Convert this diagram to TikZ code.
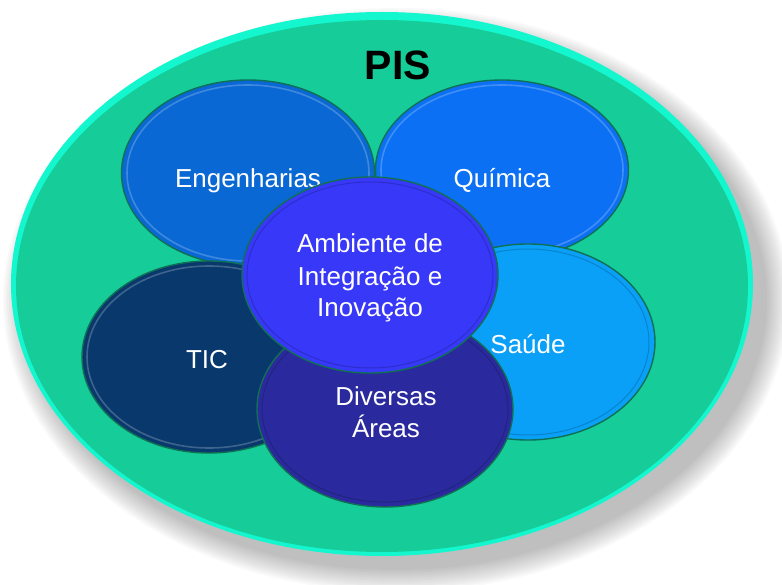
\documentclass[tikz,border=0pt]{standalone}
\usepackage{fontspec}
\setmainfont{Liberation Sans}
\usetikzlibrary{shapes.geometric}

\definecolor{tealfill}{RGB}{22,204,152}
\definecolor{tealrim}{RGB}{20,246,206}
\definecolor{edgegreen}{RGB}{16,112,84}
\definecolor{engblue}{RGB}{10,104,212}
\definecolor{quiblue}{RGB}{12,112,244}
\definecolor{ticblue}{RGB}{8,56,108}
\definecolor{saublue}{RGB}{10,160,248}
\definecolor{divblue}{RGB}{42,42,158}
\definecolor{ambblue}{RGB}{56,56,248}

\tikzset{
  bubble/.style={ellipse, draw=edgegreen, line width=1.4pt, inner sep=0pt},
  ring/.style={draw=black, opacity=0.18, line width=1pt},
  shine/.style={draw=white, opacity=0.22, line width=1.6pt},
  lbl/.style={text=white, font=\fontsize{26}{32}\selectfont, align=center, inner sep=0pt},
}

\begin{document}
\begin{tikzpicture}[x=1pt, y=-1pt]
  \useasboundingbox (0,0) rectangle (782,585);

  % soft drop shadow under the outer field
  \foreach \k in {0,...,11}
    \fill[black, opacity=0.025] (396,300) ellipse [x radius={(393-2*\k)*1pt}, y radius={(292-2*\k)*1pt}];

  % outer field with a bright rim
  \fill[tealrim] (382,284) ellipse [x radius=371pt, y radius=272pt];
  \fill[tealfill] (382,286) ellipse [x radius=366pt, y radius=266pt];

  \node[font=\fontsize{41}{48}\selectfont\bfseries, anchor=base, inner sep=0pt] (pis) at (398,80) {PIS};

  % the five areas and the centre (multi-line labels sit on their last baseline)
  \node[bubble, fill=engblue, minimum width=253pt, minimum height=186pt] (eng) at (248,173) {};
  \draw[shine] (eng.center) ellipse [x radius=121pt, y radius=88pt];
  \node[lbl, anchor=base] (engt) at (248,188) {Engenharias};

  \node[bubble, fill=quiblue, minimum width=253pt, minimum height=180pt] (qui) at (502,170) {};
  \draw[shine] (qui.center) ellipse [x radius=121pt, y radius=85pt];
  \node[lbl, anchor=base] (quit) at (502,188) {Química};

  \node[bubble, fill=ticblue, minimum width=254pt, minimum height=192pt] (tic) at (209,357) {};
  \draw[shine] (tic.center) ellipse [x radius=122pt, y radius=91pt];
  \node[lbl, anchor=base] (tict) at (207,368) {TIC};

  \node[bubble, fill=saublue, minimum width=254pt, minimum height=196pt] (sau) at (528,342) {};
  \draw[ring] (sau.center) ellipse [x radius=121pt, y radius=93pt];
  \node[lbl, anchor=base] (saut) at (528,353) {Saúde};

  \node[bubble, fill=divblue, minimum width=256pt, minimum height=196pt] (div) at (385,409) {};
  \draw[ring] (div.center) ellipse [x radius=123pt, y radius=93pt];
  \node[lbl, anchor=base] (divt) at (386,437) {Diversas\\Áreas};

  \node[bubble, fill=ambblue, minimum width=256pt, minimum height=196pt] (amb) at (370,275) {};
  \draw[ring] (amb.center) ellipse [x radius=123pt, y radius=93pt];
  \node[lbl, anchor=base] (ambt) at (370,317) {Ambiente de\\Integração e\\Inovação};
\end{tikzpicture}
\end{document}
